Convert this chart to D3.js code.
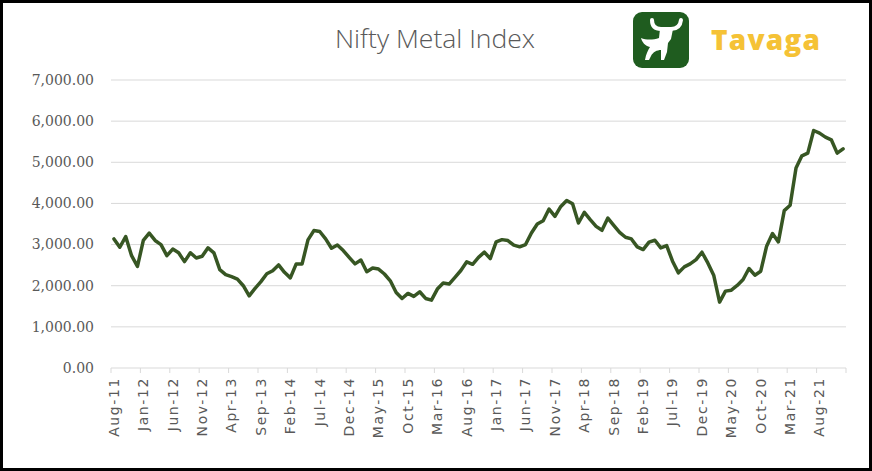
<!DOCTYPE html>
<html>
<head>
<meta charset="utf-8">
<script src="https://cdn.jsdelivr.net/npm/d3@7"></script>
<style>
  html, body { margin: 0; padding: 0; background: #fff; }
  svg { display: block; }
</style>
</head>
<body>
<svg id="chart" width="872" height="471"></svg>
<script>
// ---- data ----
const startMonth = "2011-08";
const endMonth = "2021-12";
const values = [
  3138, 2935, 3195, 2730, 2470, 3100, 3276, 3100, 3000, 2730,
  2890, 2800, 2585, 2800, 2675, 2715, 2920, 2800, 2390, 2270,
  2220, 2160, 2000, 1755, 1935, 2100, 2290, 2365, 2505, 2325,
  2190, 2530, 2530, 3115, 3340, 3317, 3138, 2910, 2990, 2855,
  2690, 2530, 2625, 2340, 2430, 2405, 2285, 2120, 1837, 1690,
  1813, 1740, 1853, 1690, 1650, 1918, 2065, 2040, 2203, 2370,
  2580, 2520, 2690, 2815, 2660, 3065, 3120, 3097, 2985, 2945,
  3000, 3282, 3500, 3580, 3863, 3685, 3927, 4073, 3992, 3524,
  3782, 3605, 3443, 3347, 3645, 3468, 3298, 3177, 3137, 2944,
  2879, 3060, 3105, 2920, 2976, 2596, 2313, 2458, 2531, 2636,
  2814, 2555, 2256, 1601, 1868, 1892, 2006, 2151, 2418, 2256,
  2353, 2960, 3267, 3065, 3825, 3954, 4859, 5158, 5223, 5773,
  5708, 5611, 5546, 5223, 5328
];
const yTicks = [0, 1000, 2000, 3000, 4000, 5000, 6000, 7000];
const xTickLabels = ["Aug-11","Jan-12","Jun-12","Nov-12","Apr-13","Sep-13","Feb-14","Jul-14",
  "Dec-14","May-15","Oct-15","Mar-16","Aug-16","Jan-17","Jun-17","Nov-17","Apr-18","Sep-18",
  "Feb-19","Jul-19","Dec-19","May-20","Oct-20","Mar-21","Aug-21"];
const title = "Nifty Metal Index";
const brand = "Tavaga";

// ---- categories (monthly) ----
const parseM = d3.timeParse("%Y-%m");
const fmtM = d3.timeFormat("%b-%y");
const months = d3.timeMonth.range(parseM(startMonth), d3.timeMonth.offset(parseM(endMonth), 1));
const categories = months.map(fmtM);
const data = categories.map((c, i) => ({ c, v: values[i] }));

// ---- layout ----
const W = 872, H = 471;
const plot = { left: 111, right: 846, top: 80, bottom: 368 };
const svg = d3.select("#chart");

// outer border
svg.append("rect").attr("x", 1.5).attr("y", 1.5).attr("width", W - 3).attr("height", H - 3)
  .attr("fill", "#fff").attr("stroke", "#000").attr("stroke-width", 3);

const x = d3.scaleBand().domain(categories).range([plot.left, plot.right]).paddingInner(0).paddingOuter(0);
const y = d3.scaleLinear().domain([0, 7000]).range([plot.bottom, plot.top]);
const cx = c => x(c) + x.bandwidth() / 2;

// gridlines
svg.append("g").selectAll("line").data(yTicks.filter(t => t > 0)).join("line")
  .attr("x1", plot.left).attr("x2", plot.right)
  .attr("y1", d => y(d)).attr("y2", d => y(d))
  .attr("stroke", "#d9d9d9").attr("stroke-width", 1);

// y labels
svg.append("g").selectAll("text").data(yTicks).join("text")
  .attr("x", 94).attr("y", d => y(d)).attr("dy", "0.35em")
  .attr("text-anchor", "end")
  .attr("font-family", "'DejaVu Serif', serif").attr("font-size", 14)
  .attr("fill", "#595959")
  .text(d3.format(",.2f"));

// x axis line
svg.append("line").attr("x1", plot.left).attr("x2", plot.right)
  .attr("y1", y(0)).attr("y2", y(0)).attr("stroke", "#d9d9d9").attr("stroke-width", 1);

// x tick marks every 5 categories at band boundaries
const tickIdx = d3.range(0, categories.length + 1, 5);
svg.append("g").selectAll("line").data(tickIdx).join("line")
  .attr("x1", i => plot.left + i * x.step()).attr("x2", i => plot.left + i * x.step())
  .attr("y1", y(0)).attr("y2", y(0) + 5)
  .attr("stroke", "#d9d9d9").attr("stroke-width", 1);

// x labels
const labelSet = new Set(xTickLabels);
svg.append("g").selectAll("text").data(categories.filter(c => labelSet.has(c))).join("text")
  .attr("transform", c => `translate(${cx(c)},${y(0) + 9}) rotate(-90)`)
  .attr("dy", "0.35em")
  .attr("text-anchor", "end")
  .attr("font-family", "'DejaVu Sans', sans-serif").attr("font-size", 14)
  .attr("letter-spacing", 1.6)
  .attr("fill", "#595959")
  .text(c => c);

// line
const line = d3.line().x(d => cx(d.c)).y(d => y(d.v));
svg.append("path").datum(data)
  .attr("d", line)
  .attr("fill", "none").attr("stroke", "#375623").attr("stroke-width", 3.5)
  .attr("stroke-linejoin", "round").attr("stroke-linecap", "round");

// title
svg.append("text").attr("x", 435).attr("y", 48).attr("text-anchor", "middle")
  .attr("font-family", "'Open Sans', sans-serif").attr("font-size", 26.5).attr("font-weight", 300)
  .attr("fill", "#595959").text(title);

// logo
const logo = svg.append("g").attr("transform", "translate(633,12)");
logo.append("rect").attr("width", 56).attr("height", 56).attr("rx", 9)
  .attr("fill", "#1f5c1f");
// horns
logo.append("path")
  .attr("d", "M19,8 Q19,17 28,17 L38,17 Q47,17 48,8")
  .attr("fill", "none").attr("stroke", "#fff").attr("stroke-width", 4).attr("stroke-linecap", "round");
// head + body
logo.append("path")
  .attr("d", "M27,17 L40,17 L38,27 L35,31 L34,40 L31,48 L28,48 L28,38 C24,38 20,40 18,44 L16,48 L12,48 C13,42 15,38 17,35 C12,34 9,30 8,26 C13,28 20,28 26,26 Z")
  .attr("fill", "#fff");
svg.append("text").attr("x", 711).attr("y", 50)
  .attr("font-family", "'Open Sans', sans-serif").attr("font-size", 28).attr("font-weight", 800)
  .attr("letter-spacing", 1.2)
  .attr("fill", "#f5c236").text(brand);
</script>
</body>
</html>
